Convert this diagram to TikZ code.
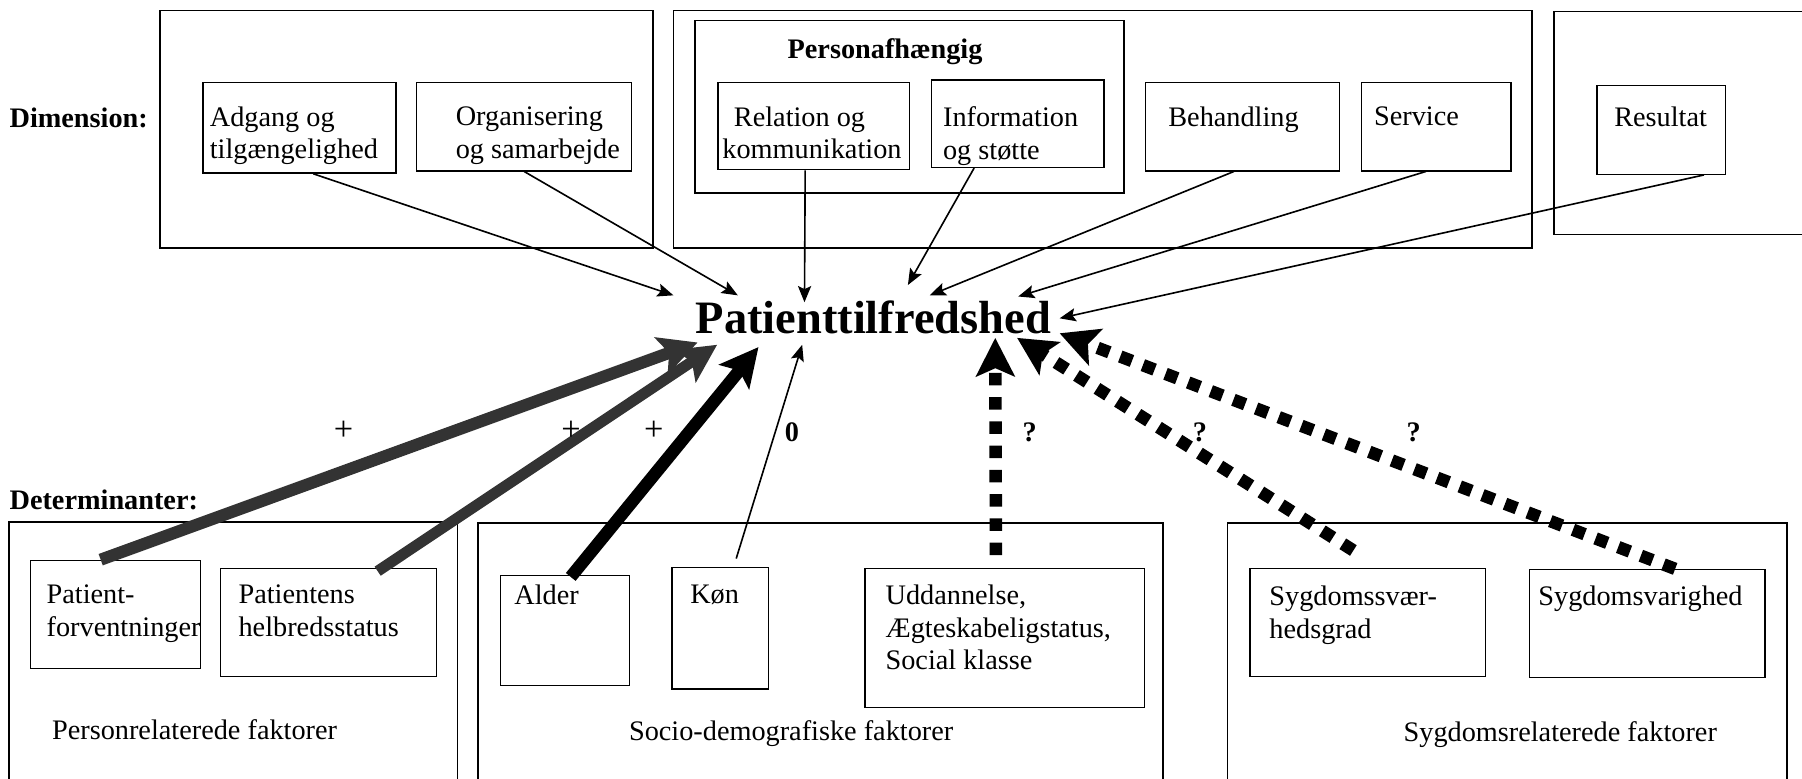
\documentclass[tikz,border=0pt]{standalone}
\usepackage{fontspec}
\setmainfont{Liberation Serif}
\usetikzlibrary{arrows.meta}
\definecolor{arrgray}{gray}{0.2}
\newcommand{\bxt}[5]{\parbox[t][#2][t]{#1}{\raggedright\leftskip=#4\relax
  \vspace*{#3}#5}}

\begin{document}
\begin{tikzpicture}[
    bx/.style={draw, line width=0.7pt, anchor=north west, inner sep=0pt,
      font=\fontsize{14}{16}\selectfont},
    frm/.style={draw, line width=0.8pt},
    lbl/.style={inner sep=0pt, anchor=base west, font=\fontsize{14}{16}\selectfont},
    sgn/.style={inner sep=0pt, anchor=base, font=\fontsize{14}{16}\selectfont},
    thn/.style={line width=0.8pt, -{Stealth[length=8pt,width=6.5pt,inset=1.5pt]}},
    hvy/.style={line width=6.2pt, -{Stealth[length=19pt,width=19pt,inset=4pt]}},
    gry/.style={hvy, color=arrgray, line width=6pt},
    dsh/.style={hvy, dash pattern=on 6.2pt off 5.8pt}
  ]
    \useasboundingbox (0,0) rectangle (31.36,-13.54);
    \clip (0,0) rectangle (31.36,-13.54);
    \fill[white] (0,0) rectangle (31.36,-13.54);
    % grupperinger
    \draw[frm] (2.78,-0.18) rectangle (11.36,-4.32);
    \draw[frm] (11.72,-0.18) rectangle (26.66,-4.32);
    \draw[frm] (27.04,-0.2) rectangle (32,-4.08);
    \draw[frm] (12.10,-0.36) rectangle (19.56,-3.36);
    \draw[frm] (0.16,-9.08) rectangle (7.96,-14);
    \draw[frm] (8.32,-9.10) rectangle (20.24,-14);
    \draw[frm] (21.36,-9.10) rectangle (31.10,-14);
    \node[lbl, font=\fontsize{14}{16}\selectfont\bfseries] (dim) at (0.16,-2.22) {Dimension:};
    \node[lbl, font=\fontsize{14}{16}\selectfont\bfseries] (pers) at (13.7,-1.01) {Personafhængig};
    \node[lbl, font=\fontsize{14}{16}\selectfont\bfseries] (det) at (0.16,-8.87) {Determinanter:};
    \node[lbl] (grp1) at (0.9,-12.87) {Personrelaterede faktorer};
    \node[lbl] (grp2) at (10.94,-12.88) {Socio-demografiske faktorer};
    \node[lbl] (grp3) at (24.42,-12.9) {Sygdomsrelaterede faktorer};
    % dimensioner
    \node[bx] (adg) at (3.52,-1.42) {\bxt{3.36cm}{1.58cm}{0.43cm}{0.12cm}{Adgang~og\\tilgængelighed}};
    \node[bx] (org) at (7.24,-1.42) {\bxt{3.74cm}{1.54cm}{0.43cm}{0.68cm}{Organisering\\og~samarbejde}};
    \node[bx] (rel) at (12.48,-1.42) {\bxt{3.34cm}{1.52cm}{0.43cm}{0.08cm}{\hspace*{0.2cm}Relation~og\\kommunikation}};
    \node[bx] (info) at (16.2,-1.38) {\bxt{3.0cm}{1.52cm}{0.47cm}{0.2cm}{Information\\og~støtte}};
    \node[bx] (beh) at (19.92,-1.42) {\bxt{3.38cm}{1.54cm}{0.43cm}{0.4cm}{Behandling}};
    \node[bx] (serv) at (23.68,-1.42) {\bxt{2.6cm}{1.54cm}{0.43cm}{0.22cm}{Service}};
    \node[bx] (res) at (27.78,-1.48) {\bxt{2.24cm}{1.54cm}{0.37cm}{0.3cm}{Resultat}};
    % determinanter
    \node[bx] (pforv) at (0.52,-9.74) {\bxt{2.96cm}{1.88cm}{0.43cm}{0.28cm}{Patient-\\forventninger}};
    \node[bx] (phelb) at (3.82,-9.88) {\bxt{3.76cm}{1.88cm}{0.29cm}{0.32cm}{Patientens\\helbredsstatus}};
    \node[bx] (alder) at (8.7,-10.0) {\bxt{2.24cm}{1.92cm}{0.17cm}{0.24cm}{Alder}};
    \node[bx] (koen) at (11.68,-9.86) {\bxt{1.68cm}{2.12cm}{0.31cm}{0.32cm}{Køn}};
    \node[bx] (udd) at (15.04,-9.88) {\bxt{4.86cm}{2.42cm}{0.29cm}{0.36cm}{Uddannelse,\\Ægteskabeligstatus,\\Social~klasse}};
    \node[bx] (svaer) at (21.74,-9.88) {\bxt{4.1cm}{1.88cm}{0.31cm}{0.34cm}{Sygdomssvær-\\hedsgrad}};
    \node[bx] (svar) at (26.6,-9.9) {\bxt{4.1cm}{1.88cm}{0.29cm}{0.16cm}{Sygdomsvarighed}};
    % patienttilfredshed
    \node[inner sep=0pt, anchor=base west, font=\fontsize{23}{27}\selectfont\bfseries]
      (tilf) at (12.1,-5.8) {Patienttilfredshed};
    \coordinate (pA) at (11.72,-5.14);
    \coordinate (pO) at (12.84,-5.14);
    \coordinate (pR) at (14.0,-5.26);
    \coordinate (pI) at (15.8,-4.96);
    \coordinate (pB) at (16.18,-5.14);
    \coordinate (pS) at (17.72,-5.16);
    \coordinate (pRs) at (18.44,-5.54);
    \coordinate (pPf) at (12.14,-5.96);
    \coordinate (pPh) at (12.48,-6.0);
    \coordinate (pAl) at (13.2,-6.04);
    \coordinate (pK) at (13.96,-6.0);
    \coordinate (pU) at (17.32,-5.88);
    \coordinate (pSv) at (17.7,-5.88);
    \coordinate (pSg) at (18.44,-5.80);
    \draw[thn] ([xshift=0.24cm]adg.south) -- (pA);
    \draw[thn] (org.south) -- (pO);
    \draw[thn] ([xshift=-0.15cm]rel.south) -- (pR);
    \draw[thn] ([xshift=-0.76cm]info.south) -- (pI);
    \draw[thn] ([xshift=-0.15cm]beh.south) -- (pB);
    \draw[thn] ([xshift=-0.18cm]serv.south) -- (pS);
    \draw[thn] ([xshift=0.74cm]res.south) -- (pRs);
    \draw[gry] ([xshift=-0.26cm]pforv.north) -- (pPf);
    \draw[gry, line width=5.4pt] ([xshift=0.86cm,yshift=-0.06cm]phelb.north) -- (pPh);
    \draw[hvy] ([xshift=0.1cm,yshift=-0.04cm]alder.north) -- (pAl);
    \draw[thn] ([xshift=0.28cm,yshift=0.14cm]koen.north) -- (pK);
    \draw[dsh] ([xshift=-0.15cm,yshift=0.22cm]udd.north) -- (pU);
    \draw[dsh] ([xshift=-0.25cm,yshift=0.3cm]svaer.north) -- (pSv);
    \draw[dsh] ([xshift=0.49cm]svar.north) -- (pSg);
    \foreach \n/\x/\s in {s1/5.98/+, s2/9.94/+, s3/11.38/+}
      \node[sgn, font=\fontsize{17}{20}\selectfont] (\n) at (\x,-7.66) {\s};
    \foreach \n/\x/\s in {s4/13.78/0, s5/17.92/?, s6/20.88/?, s7/24.6/?}
      \node[sgn, font=\fontsize{14}{16}\selectfont\bfseries] (\n) at (\x,-7.68) {\s};
  \end{tikzpicture}
\end{document}
